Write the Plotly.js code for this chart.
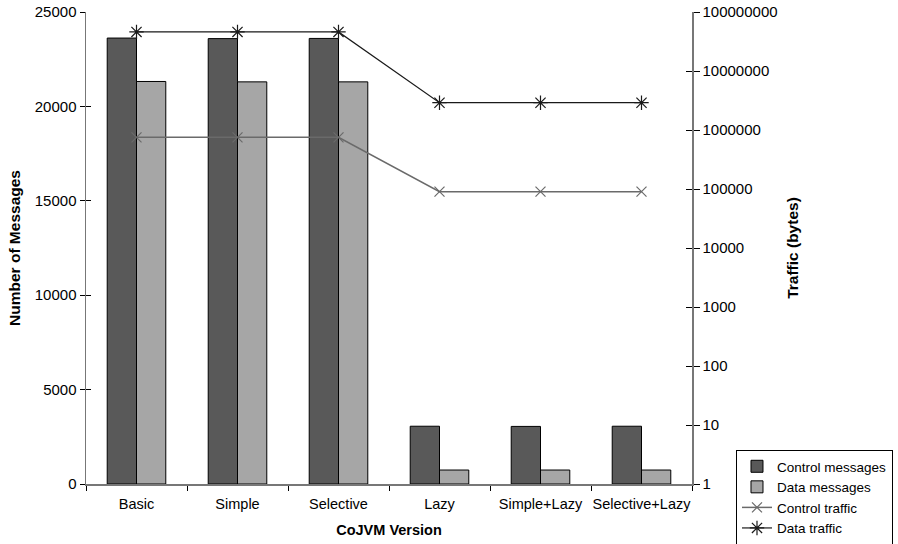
<!DOCTYPE html>
<html>
<head>
<meta charset="utf-8">
<script src="https://cdn.plot.ly/plotly-3.0.1.min.js"></script>
<style>html,body{margin:0;padding:0;background:#fff;}#chart{width:898px;height:544px;}</style>
</head>
<body>
<div id="chart"></div>
<script>
var categories = ["Basic", "Simple", "Selective", "Lazy", "Simple+Lazy", "Selective+Lazy"];
var controlMessages = [23620, 23590, 23600, 3060, 3050, 3060];
var dataMessages = [21320, 21300, 21300, 740, 740, 740];
var controlTraffic = [750000, 750000, 750000, 90000, 90000, 90000];
var dataTraffic = [46000000, 46000000, 46000000, 2900000, 2900000, 2900000];
var y2TickVals = [1, 10, 100, 1000, 10000, 100000, 1000000, 10000000, 100000000];
var y2TickText = ["1", "10", "100", "1000", "10000", "100000", "1000000", "10000000", "100000000"];

var fontFam = "Liberation Sans, Arial, sans-serif";
var traces = [
  {type: "bar", name: "Control messages", x: categories, y: controlMessages,
   marker: {color: "#595959", line: {color: "#000", width: 1}}, yaxis: "y"},
  {type: "bar", name: "Data messages", x: categories, y: dataMessages,
   marker: {color: "#a6a6a6", line: {color: "#000", width: 1}}, yaxis: "y"},
  {type: "scatter", mode: "lines+markers", name: "Control traffic", x: categories, y: controlTraffic,
   yaxis: "y2", line: {color: "#6a6a6a", width: 1.5},
   marker: {symbol: "x-thin-open", size: 10, color: "#6a6a6a", line: {color: "#6a6a6a", width: 1.2}}},
  {type: "scatter", mode: "lines+markers", name: "Data traffic", x: categories, y: dataTraffic,
   yaxis: "y2", line: {color: "#1a1a1a", width: 1.2},
   marker: {symbol: "asterisk-open", size: 12, color: "#1a1a1a", line: {color: "#1a1a1a", width: 1.2}}},
  {type: "scatter", mode: "markers", x: [categories[0]], y: [null], yaxis: "y3",
   showlegend: false, hoverinfo: "skip"},
  {type: "scatter", mode: "markers", x: [categories[0]], y: [null], yaxis: "y4",
   showlegend: false, hoverinfo: "skip"}
];

var layout = {
  width: 898, height: 544,
  margin: {l: 86, r: 206, t: 12, b: 60, autoexpand: false},
  paper_bgcolor: "#fff", plot_bgcolor: "#fff",
  font: {family: fontFam, size: 14, color: "#000"},
  barmode: "group", bargap: 0.42, bargroupgap: 0,
  showlegend: true,
  legend: {x: 1.0726, y: 0.072, xanchor: "left", yanchor: "top",
           bordercolor: "#000", borderwidth: 1, bgcolor: "#fff",
           font: {family: fontFam, size: 13.5, color: "#000"}, tracegroupgap: 0,
           traceorder: "normal", itemwidth: 30},
  xaxis: {type: "category", showline: true, linecolor: "#777", linewidth: 1.5,
          ticks: "outside", ticklen: 5, tickcolor: "#000", tickson: "boundaries",
          tickangle: 0, automargin: false, ticklabelstandoff: 6,
          showgrid: false, zeroline: false,
          tickfont: {family: fontFam, size: 14.5},
          title: {text: "CoJVM Version", font: {family: fontFam, size: 14.5, weight: "bold"}, standoff: 14}},
  yaxis: {range: [0, 25000], dtick: 5000, tickformat: "d", showline: true, linecolor: "#777", linewidth: 1.5,
          ticks: "outside", ticklen: 5, tickcolor: "#000", showgrid: false, zeroline: false,
          automargin: false,
          tickfont: {family: fontFam, size: 15},
          title: {text: "Number of Messages", font: {family: fontFam, size: 15.5, weight: "bold"}, standoff: 10}},
  yaxis2: {type: "log", range: [0, 8], overlaying: "y", side: "right",
           tickvals: y2TickVals, ticktext: y2TickText, automargin: false,
           showline: true, linecolor: "#777", linewidth: 1.5,
           ticks: "outside", ticklen: 6, tickcolor: "#000", showgrid: false, zeroline: false,
           tickfont: {family: fontFam, size: 15},
           title: {text: "Traffic (bytes)", font: {family: fontFam, size: 15.5, weight: "bold"}, standoff: 10}},
  yaxis3: {range: [0, 25000], dtick: 5000, overlaying: "y", side: "left", showticklabels: false,
           ticks: "inside", ticklen: 5, tickcolor: "#000", showline: false, showgrid: false,
           zeroline: false, automargin: false},
  yaxis4: {range: [0, 8], dtick: 1, overlaying: "y", side: "right", showticklabels: false,
           ticks: "inside", ticklen: 6, tickcolor: "#000", showline: false, showgrid: false,
           zeroline: false, automargin: false}
};

Plotly.newPlot("chart", traces, layout, {displayModeBar: false, staticPlot: true});
</script>
</body>
</html>
